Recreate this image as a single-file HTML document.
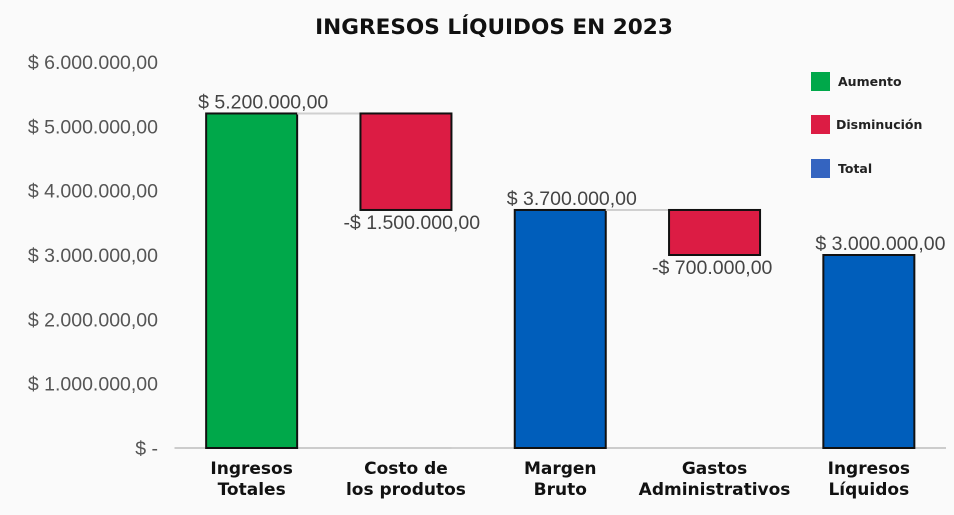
<!DOCTYPE html>
<html><head><meta charset="utf-8"><style>
body{margin:0;background:#fafafa;}
svg{display:block;font-family:"Liberation Sans",sans-serif;}
</style></head><body>
<svg width="954" height="515" viewBox="0 0 954 515">
<rect width="954" height="515" fill="#fafafa"/>
<text x="494" y="34" text-anchor="middle" font-family="DejaVu Sans, sans-serif" font-weight="bold" font-size="21.6" fill="#111">INGRESOS LÍQUIDOS EN 2023</text>
<g id="plot"></g>
<g font-family="DejaVu Sans, sans-serif" font-weight="bold" font-size="12.5" fill="#222">
<g><rect x="811" y="72" width="19" height="19" fill="#00a84a"/><text x="838" y="86">Aumento</text></g>
<g><rect x="811" y="115" width="19" height="19" fill="#dc1c44"/><text x="836" y="129">Disminución</text></g>
<g><rect x="811" y="159" width="19" height="19" fill="#3464c0"/><text x="838" y="173">Total</text></g>
</g>
</svg>
<script>
const categories=[["Ingresos","Totales"],["Costo de","los produtos"],["Margen","Bruto"],["Gastos","Administrativos"],["Ingresos","Líquidos"]];
const values=[5200000,-1500000,3700000,-700000,3000000];
const kinds=["increase","decrease","total","decrease","total"];
const valueLabels=["$ 5.200.000,00","-$ 1.500.000,00","$ 3.700.000,00","-$ 700.000,00","$ 3.000.000,00"];
const yTicks=[0,1000000,2000000,3000000,4000000,5000000,6000000];
const yTickLabels=["$ -","$ 1.000.000,00","$ 2.000.000,00","$ 3.000.000,00","$ 4.000.000,00","$ 5.000.000,00","$ 6.000.000,00"];

const NS="http://www.w3.org/2000/svg";
const g=document.getElementById('plot');
const x0=174.5,x1=946,y0=448,yTop=62,yMax=6000000;
const y=v=>y0-(v/yMax)*(y0-yTop);
const step=(x1-x0)/categories.length;
const bw=91;
const xc=i=>x0+step*(i+0.5);
function mk(tag,a){const e=document.createElementNS(NS,tag);for(const k in a)e.setAttribute(k,a[k]);g.appendChild(e);return e;}
const colors={increase:"#00a84a",decrease:"#dc1c44",total:"#005ebb"};
yTicks.forEach((t,i)=>{
  const e=mk('text',{x:158,y:y(t)+7,'text-anchor':'end','font-size':19.5,fill:'#555'});
  e.textContent=yTickLabels[i];
  
  
});
const ax=mk('line',{x1:x0,x2:x1,y1:y0,y2:y0,stroke:'#ccc','stroke-width':2});


let run=0;
values.forEach((v,i)=>{
  let a,b;
  if(kinds[i]==="total"){a=0;b=v;run=v;}
  else{a=run;b=run+v;run=b;}
  if(i>0){
    const c=mk('line',{x1:xc(i-1)+bw/2,x2:xc(i)-bw/2,y1:y(a),y2:y(a),stroke:'#d0d0d0','stroke-width':2});
    
    
  }
  const hi=Math.max(a,b),lo=Math.min(a,b);
  const r=mk('rect',{x:xc(i)-bw/2,y:y(hi),width:bw,height:y(lo)-y(hi),fill:colors[kinds[i]],stroke:'#111','stroke-width':2});
  
  
  const neg=v<0;
  const t=mk('text',{x:xc(i)-bw/2-(neg?17:8),y:neg?y(lo)+19:y(hi)-5,'font-size':19.5,fill:'#444'});
  t.textContent=valueLabels[i];
  
  
  categories[i].forEach((ln,j)=>{
    const c=mk('text',{x:xc(i),y:474+j*21,'text-anchor':'middle','font-family':'DejaVu Sans, sans-serif','font-weight':'bold','font-size':17,fill:'#111'});
    c.textContent=ln;
    
    
  });
});
</script>
</body></html>
